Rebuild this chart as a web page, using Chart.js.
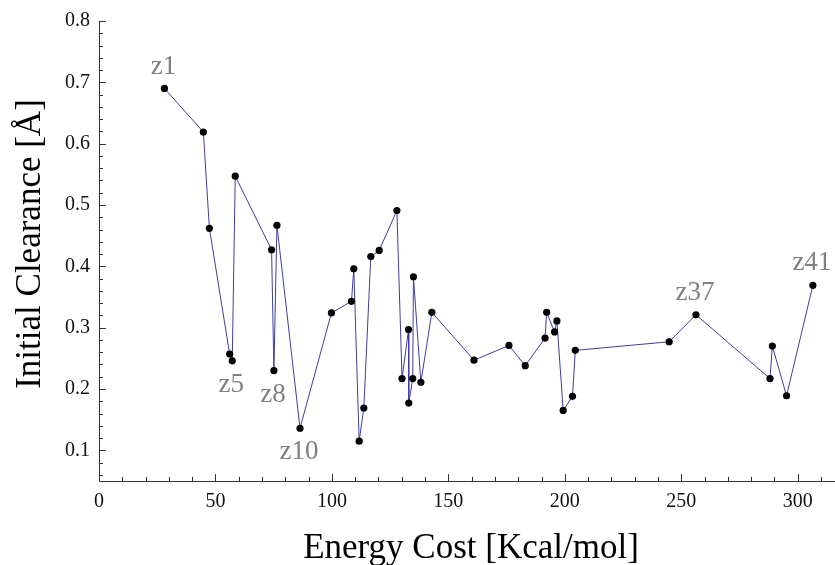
<!DOCTYPE html>
<html>
<head>
<meta charset="utf-8">
<script src="https://cdn.jsdelivr.net/npm/chart.js@4"></script>
<style>
  html, body { margin: 0; padding: 0; background: #fff; }
  #wrap { width: 835px; height: 565px; }
</style>
</head>
<body>
<div id="wrap"><canvas id="chart" width="835" height="565"></canvas></div>
<script>
// energy cost vs. initial clearance for structures z1..z41, in order
const energyCost = [28.1, 44.8, 47.4, 56.1, 57.2, 58.5, 74.1, 75.1, 76.4, 86.3,
  99.8, 108.4, 109.4, 111.7, 113.7, 116.7, 120.3, 127.9, 130.1, 132.9,
  133.0, 134.7, 135.0, 138.2, 142.9, 161.0, 176.0, 183.0, 191.5, 192.2,
  195.6, 196.6, 199.3, 203.3, 204.5, 244.8, 256.3, 288.1, 289.1, 295.2, 306.5];
const clearance = [0.690, 0.619, 0.462, 0.257, 0.246, 0.547, 0.427, 0.230, 0.467, 0.136,
  0.324, 0.343, 0.396, 0.115, 0.169, 0.416, 0.426, 0.491, 0.217, 0.297,
  0.177, 0.217, 0.383, 0.211, 0.325, 0.247, 0.271, 0.238, 0.283, 0.325,
  0.293, 0.311, 0.165, 0.188, 0.263, 0.277, 0.321, 0.217, 0.270, 0.189, 0.369];
const structureIds = energyCost.map((_, i) => 'z' + (i + 1));
const labeledIds = ['z1', 'z5', 'z8', 'z10', 'z37', 'z41'];
const labelsBelow = ['z5', 'z8', 'z10'];

const xTicks = [0, 50, 100, 150, 200, 250, 300];
const yTicks = [0.1, 0.2, 0.3, 0.4, 0.5, 0.6, 0.7, 0.8];
const xMinorStep = 10;
const yMinorStep = 0.02;

const serif = '"Liberation Serif", "DejaVu Serif", serif';
const axisColor = '#333';

// axes drawn Mathematica-style: left + bottom lines, inward major/minor ticks
const axesPlugin = {
  id: 'axes',
  afterDatasetsDraw(chart) {
    const { ctx, chartArea: a, scales: { x, y } } = chart;
    ctx.save();
    ctx.strokeStyle = axisColor;
    ctx.lineWidth = 1;
    ctx.beginPath();
    ctx.moveTo(a.left + 0.5, a.top);
    ctx.lineTo(a.left + 0.5, a.bottom + 0.5);
    ctx.lineTo(a.right, a.bottom + 0.5);
    // x ticks
    for (let v = 0; v <= x.max; v += xMinorStep) {
      const px = Math.round(x.getPixelForValue(v)) + 0.5;
      const len = xTicks.includes(v) ? 7 : 4;
      ctx.moveTo(px, a.bottom);
      ctx.lineTo(px, a.bottom - len);
    }
    // y ticks
    for (let i = 0; ; i++) {
      const v = +(0.06 + i * yMinorStep).toFixed(2);
      if (v > y.max + 1e-9) break;
      const py = Math.round(y.getPixelForValue(v)) + 0.5;
      const major = yTicks.some(t => Math.abs(t - v) < 1e-9);
      ctx.moveTo(a.left, py);
      ctx.lineTo(a.left + (major ? 7 : 4), py);
    }
    ctx.stroke();

    // point labels
    const meta = chart.getDatasetMeta(0);
    ctx.fillStyle = '#808080';
    ctx.font = '27px ' + serif;
    ctx.textAlign = 'center';
    ctx.textBaseline = 'middle';
    labeledIds.forEach(id => {
      const el = meta.data[structureIds.indexOf(id)];
      const dy = labelsBelow.includes(id) ? 24 : -22;
      ctx.fillText(id, el.x - 1, el.y + dy);
    });

    // axis titles
    ctx.fillStyle = '#000';
    ctx.font = '35px ' + serif;
    ctx.fillText('Energy Cost [Kcal/mol]', 471, 549);
    ctx.translate(31, 244);
    ctx.rotate(-Math.PI / 2);
    ctx.fillText('Initial Clearance [Å]', 0, 0);
    ctx.restore();
  }
};

new Chart(document.getElementById('chart'), {
  type: 'scatter',
  data: {
    datasets: [{
      data: energyCost.map((e, i) => ({ x: e, y: clearance[i] })),
      showLine: true,
      borderColor: '#3d3d9c',
      borderWidth: 1,
      pointBackgroundColor: '#000',
      pointBorderWidth: 0,
      pointRadius: 3.6,
      tension: 0,
      clip: false
    }]
  },
  options: {
    responsive: false,
    animation: false,
    layout: { autoPadding: false, padding: { top: 21, right: 0, bottom: 0, left: 0 } },
    plugins: { legend: { display: false }, tooltip: { enabled: false } },
    scales: {
      x: {
        type: 'linear',
        min: 0,
        max: 316,
        afterBuildTicks: s => { s.ticks = xTicks.map(v => ({ value: v })); },
        afterFit: s => { s.height = 84; s.paddingLeft = 0; s.paddingRight = 0; },
        grid: { display: false, drawTicks: false },
        border: { display: false },
        ticks: {
          padding: 9,
          color: '#111',
          font: { family: serif, size: 20 },
          maxRotation: 0,
          callback: v => String(v)
        }
      },
      y: {
        type: 'linear',
        min: 0.05,
        max: 0.8,
        afterBuildTicks: s => { s.ticks = yTicks.map(v => ({ value: v })); },
        afterFit: s => { s.width = 99; },
        grid: { display: false, drawTicks: false },
        border: { display: false },
        ticks: {
          padding: 9,
          color: '#111',
          font: { family: serif, size: 20 },
          callback: v => v.toFixed(1)
        }
      }
    }
  },
  plugins: [axesPlugin]
});
</script>
</body>
</html>
